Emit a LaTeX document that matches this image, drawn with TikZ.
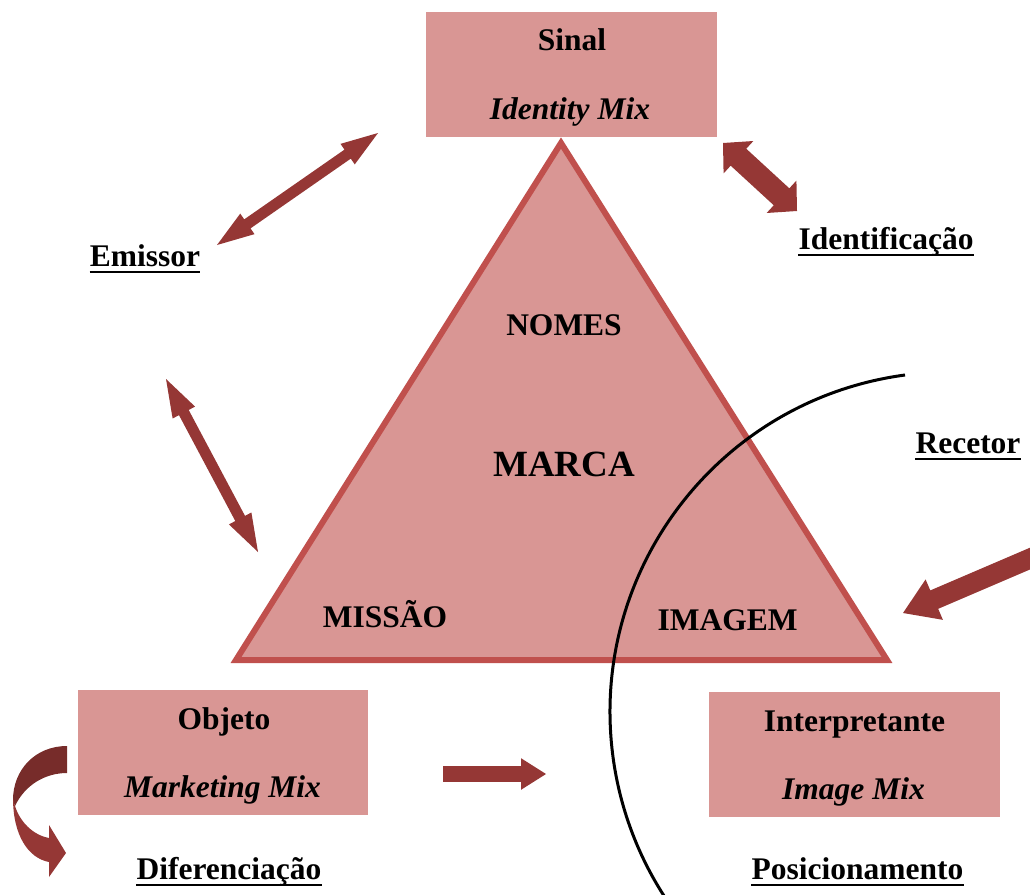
\documentclass[tikz,border=0pt]{standalone}
\usepackage{fontspec}
\setmainfont{Liberation Serif}
\usetikzlibrary{calc}
\definecolor{boxfill}{HTML}{D99694}
\definecolor{triline}{HTML}{C0504D}
\definecolor{arrfill}{HTML}{953735}
\definecolor{arrdark}{HTML}{772C2A}
\newcommand{\dblarr}[5]{% A, B, half shaft, half head, head length
\fill[arrfill] (#1) -- ($(#1)!#5!(#2)!#4!90:(#2)$) -- ($(#1)!#5!(#2)!#3!90:(#2)$)
 -- ($(#2)!#5!(#1)!#3!-90:(#1)$) -- ($(#2)!#5!(#1)!#4!-90:(#1)$) -- (#2)
 -- ($(#2)!#5!(#1)!#4!90:(#1)$) -- ($(#2)!#5!(#1)!#3!90:(#1)$)
 -- ($(#1)!#5!(#2)!#3!-90:(#2)$) -- ($(#1)!#5!(#2)!#4!-90:(#2)$) -- cycle;}
\newcommand{\sglarr}[5]{% tail T, tip B, half shaft, half head, head length
\fill[arrfill] ($(#1)!#3!90:(#2)$) -- ($(#2)!#5!(#1)!#3!-90:(#1)$) -- ($(#2)!#5!(#1)!#4!-90:(#1)$) -- (#2)
 -- ($(#2)!#5!(#1)!#4!90:(#1)$) -- ($(#2)!#5!(#1)!#3!90:(#1)$) -- ($(#1)!#3!-90:(#2)$) -- cycle;}
\begin{document}
\begin{tikzpicture}[x=1pt,y=-1pt,
  box/.style={fill=boxfill, draw=none, rectangle, inner sep=0pt},
  txt/.style={inner sep=0pt, anchor=base, font=\fontsize{31.5}{38}\selectfont\bfseries},
  itx/.style={txt, font=\fontsize{31.5}{38}\selectfont\bfseries\itshape},
  big/.style={txt, font=\fontsize{37}{44}\selectfont\bfseries},
  ul/.style={line width=2.5pt}]
\useasboundingbox (0,0) rectangle (1030,894);
% boxes
\node[box, minimum width=291pt, minimum height=125pt] (sinal) at (571.5,74.5) {};
\node[box, minimum width=290pt, minimum height=125pt] (objeto) at (223,752.5) {};
\node[box, minimum width=291pt, minimum height=125pt] (interp) at (854.5,754.5) {};
% triangle
\coordinate (apex) at (561,143);
\coordinate (bl) at (236,660);
\coordinate (br) at (887,660);
\filldraw[fill=boxfill, draw=triline, line width=6pt, line join=miter] (apex) -- (bl) -- (br) -- cycle;
% texts
\node[txt] (tsinal) at (572,50) {Sinal};
\node[itx] (tidm) at (570,119) {Identity Mix};
\node[txt] (tnomes) at (564,335) {NOMES};
\node[big] (tmarca) at (564,476) {MARCA};
\node[txt] (tmissao) at (385,627) {MISSÃO};
\node[txt] (timagem) at (727.5,630) {IMAGEM};
\node[txt] (tobj) at (224,729) {Objeto};
\node[itx] (tmm) at (222.5,797) {Marketing Mix};
\node[txt] (tint) at (854.5,731) {Interpretante};
\node[itx] (tim) at (853.5,799) {Image Mix};
% underlined labels
\node[txt] (lemi) at (145,266) {Emissor};
\node[txt] (lide) at (886,249) {Identificação};
\node[txt] (lrec) at (968,453) {Recetor};
\node[txt] (ldif) at (229,879) {Diferenciação};
\node[txt] (lpos) at (857.5,879) {Posicionamento};
\foreach \n in {lemi,lide,lrec,ldif,lpos}
  \draw[ul] ([yshift=-6pt]\n.base west) -- ([yshift=-6pt]\n.base east);
% arc
\coordinate (arcc) at (950,712);
\draw[line width=3pt] ($(arcc)+(97.6:340pt)$) arc[start angle=97.6, end angle=213, radius=340pt];
% arrows
\coordinate (a1a) at (217,245); \coordinate (a1b) at (378,133);
\dblarr{a1a}{a1b}{5.5pt}{12.5pt}{37pt}
\coordinate (a2a) at (723,143); \coordinate (a2b) at (797,211);
\dblarr{a2a}{a2b}{11.5pt}{22pt}{21pt}
\coordinate (a3a) at (166,379); \coordinate (a3b) at (258,552);
\dblarr{a3a}{a3b}{5.5pt}{12.7pt}{38pt}
\coordinate (a4t) at (1036,556); \coordinate (a4b) at (903,613);
\sglarr{a4t}{a4b}{10pt}{22pt}{34pt}
\coordinate (a5t) at (443,774); \coordinate (a5b) at (546,774);
\sglarr{a5t}{a5b}{7.8pt}{15.8pt}{25pt}
% curved arrow
\fill[arrdark] (67,746) .. controls (35,746) and (13,770) .. (13,800) -- (15,806)
  .. controls (25,785) and (45,773) .. (67,773) -- cycle;
\fill[arrfill] (13,798) .. controls (13,835) and (28,858) .. (49,862) -- (49,877) -- (66,853)
  -- (49,825) -- (49,838) .. controls (33,835) and (20,822) .. (15,806) -- cycle;
\end{tikzpicture}
\end{document}
